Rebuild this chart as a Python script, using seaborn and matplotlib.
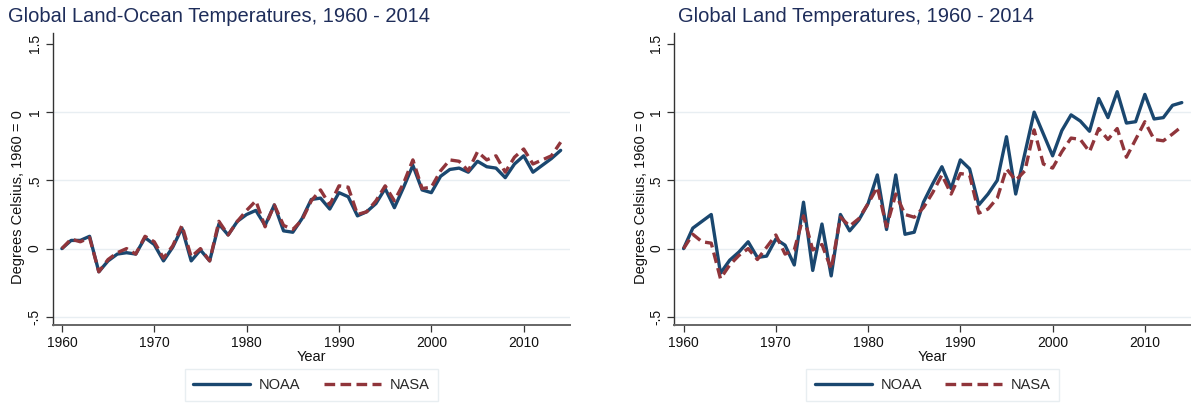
import pandas as pd
import matplotlib
matplotlib.use('Agg')
import matplotlib.pyplot as plt
import seaborn as sns

years = list(range(1960, 2015))

# Land-Ocean, anomaly relative to 1960
lo_noaa = [0.00, 0.06, 0.06, 0.09, -0.17, -0.09, -0.04, -0.03, -0.04, 0.08,
           0.03, -0.09, 0.01, 0.15, -0.09, -0.01, -0.09, 0.18, 0.10, 0.20,
           0.25, 0.28, 0.17, 0.32, 0.13, 0.12, 0.22, 0.36, 0.37, 0.29,
           0.41, 0.38, 0.24, 0.27, 0.33, 0.44, 0.30, 0.45, 0.61, 0.43,
           0.41, 0.53, 0.58, 0.59, 0.56, 0.64, 0.60, 0.59, 0.52, 0.62,
           0.68, 0.56, 0.61, 0.66, 0.72]
lo_nasa = [0.00, 0.07, 0.05, 0.08, -0.17, -0.08, -0.03, 0.00, -0.04, 0.09,
           0.05, -0.07, 0.02, 0.17, -0.06, 0.00, -0.09, 0.20, 0.10, 0.20,
           0.28, 0.35, 0.16, 0.32, 0.17, 0.14, 0.21, 0.35, 0.43, 0.32,
           0.46, 0.45, 0.25, 0.27, 0.35, 0.46, 0.35, 0.48, 0.65, 0.44,
           0.45, 0.57, 0.65, 0.64, 0.57, 0.71, 0.65, 0.68, 0.56, 0.67,
           0.73, 0.62, 0.65, 0.68, 0.78]

# Land only, anomaly relative to 1960
land_noaa = [0.00, 0.15, 0.20, 0.25, -0.18, -0.085, -0.025, 0.05, -0.065, -0.055,
             0.07, 0.025, -0.12, 0.34, -0.16, 0.18, -0.20, 0.25, 0.13, 0.21,
             0.33, 0.54, 0.14, 0.54, 0.105, 0.12, 0.34, 0.475, 0.60, 0.44,
             0.65, 0.585, 0.32, 0.40, 0.50, 0.82, 0.40, 0.70, 1.00, 0.84,
             0.68, 0.865, 0.98, 0.935, 0.86, 1.10, 0.96, 1.15, 0.92, 0.93,
             1.13, 0.95, 0.96, 1.05, 1.07]
land_nasa = [0.00, 0.105, 0.05, 0.04, -0.22, -0.12, -0.05, 0.00, -0.08, 0.01,
             0.10, -0.04, -0.01, 0.24, -0.01, 0.03, -0.15, 0.23, 0.165, 0.22,
             0.33, 0.45, 0.16, 0.40, 0.25, 0.23, 0.30, 0.41, 0.54, 0.40,
             0.55, 0.54, 0.26, 0.29, 0.37, 0.585, 0.50, 0.57, 0.87, 0.62,
             0.59, 0.71, 0.81, 0.80, 0.71, 0.88, 0.80, 0.88, 0.67, 0.80,
             0.93, 0.80, 0.79, 0.84, 0.895]

titles = ['Global Land-Ocean Temperatures, 1960 - 2014',
          'Global Land Temperatures, 1960 - 2014']
yticks = [-0.5, 0, 0.5, 1, 1.5]
ytick_labels = ['-.5', '0', '.5', '1', '1.5']
xticks = [1960, 1970, 1980, 1990, 2000, 2010]

sns.set_style('white')
plt.rcParams['font.family'] = ['Liberation Sans', 'DejaVu Sans']

colors = {'NOAA': '#1a476f', 'NASA': '#90353b'}
dashes = {'NOAA': '', 'NASA': (3.2, 1.6)}
text_col = '#1e2d5a'
grid_col = '#e8eef2'

fig = plt.figure(figsize=(11.91, 4.03), dpi=100)
axes = [fig.add_axes([0.0442, 0.1935, 0.4343, 0.7246]),
        fig.add_axes([0.5662, 0.1935, 0.4338, 0.7246])]
title_x = [8 / 1191, 678 / 1191]
ylabel_x = [18 / 1191, 641 / 1191]

for i, (ax, noaa, nasa) in enumerate(zip(axes, [lo_noaa, land_noaa], [lo_nasa, land_nasa])):
    df = pd.DataFrame({'Year': years, 'NOAA': noaa, 'NASA': nasa})
    df = df.melt(id_vars='Year', var_name='Source', value_name='Temp')

    for y in [-0.5, 0, 0.5, 1]:
        ax.axhline(y, color=grid_col, lw=1, zorder=0)

    sns.lineplot(data=df, x='Year', y='Temp', hue='Source', style='Source',
                 palette=colors, dashes=dashes, linewidth=2.4, ax=ax)

    ax.set_xlim(1959, 2015)
    ax.set_ylim(-0.56, 1.58)
    ax.set_xticks(xticks)
    ax.set_xticklabels([str(x) for x in xticks], fontsize=10, color='#111111')
    ax.set_yticks(yticks)
    ax.set_yticklabels(ytick_labels, fontsize=10, color='#111111',
                       rotation=90, va='center')
    ax.tick_params(axis='both', direction='out', length=5, width=0.9,
                   color='#333333', pad=3)
    ax.tick_params(axis='both', bottom=True, left=True)
    for s in ['top', 'right']:
        ax.spines[s].set_visible(False)
    ax.spines['left'].set_color('#333333')
    ax.spines['bottom'].set_color('#666666')
    ax.spines['left'].set_linewidth(1)
    ax.spines['bottom'].set_linewidth(1.4)

    ax.set_xlabel('Year', fontsize=10.5, color='#111111', labelpad=0)
    ax.set_ylabel('')
    fig.text(ylabel_x[i], 0.51, 'Degrees Celsius, 1960 = 0', rotation=90,
             fontsize=10.5, color='#111111', ha='center', va='center')
    fig.text(title_x[i], 1 - 17 / 403, titles[i], fontsize=14.5,
             color=text_col, ha='left', va='center')

    handles, labels = ax.get_legend_handles_labels()
    ax.legend(handles, labels, loc='center', bbox_to_anchor=(0.5, -0.205),
              ncol=2, frameon=True, fontsize=10.5, handlelength=3.9,
              handletextpad=0.6, columnspacing=1.6, borderpad=0.6,
              fancybox=False, edgecolor='#e3eaee')

fig.savefig('out.png', dpi=100)
